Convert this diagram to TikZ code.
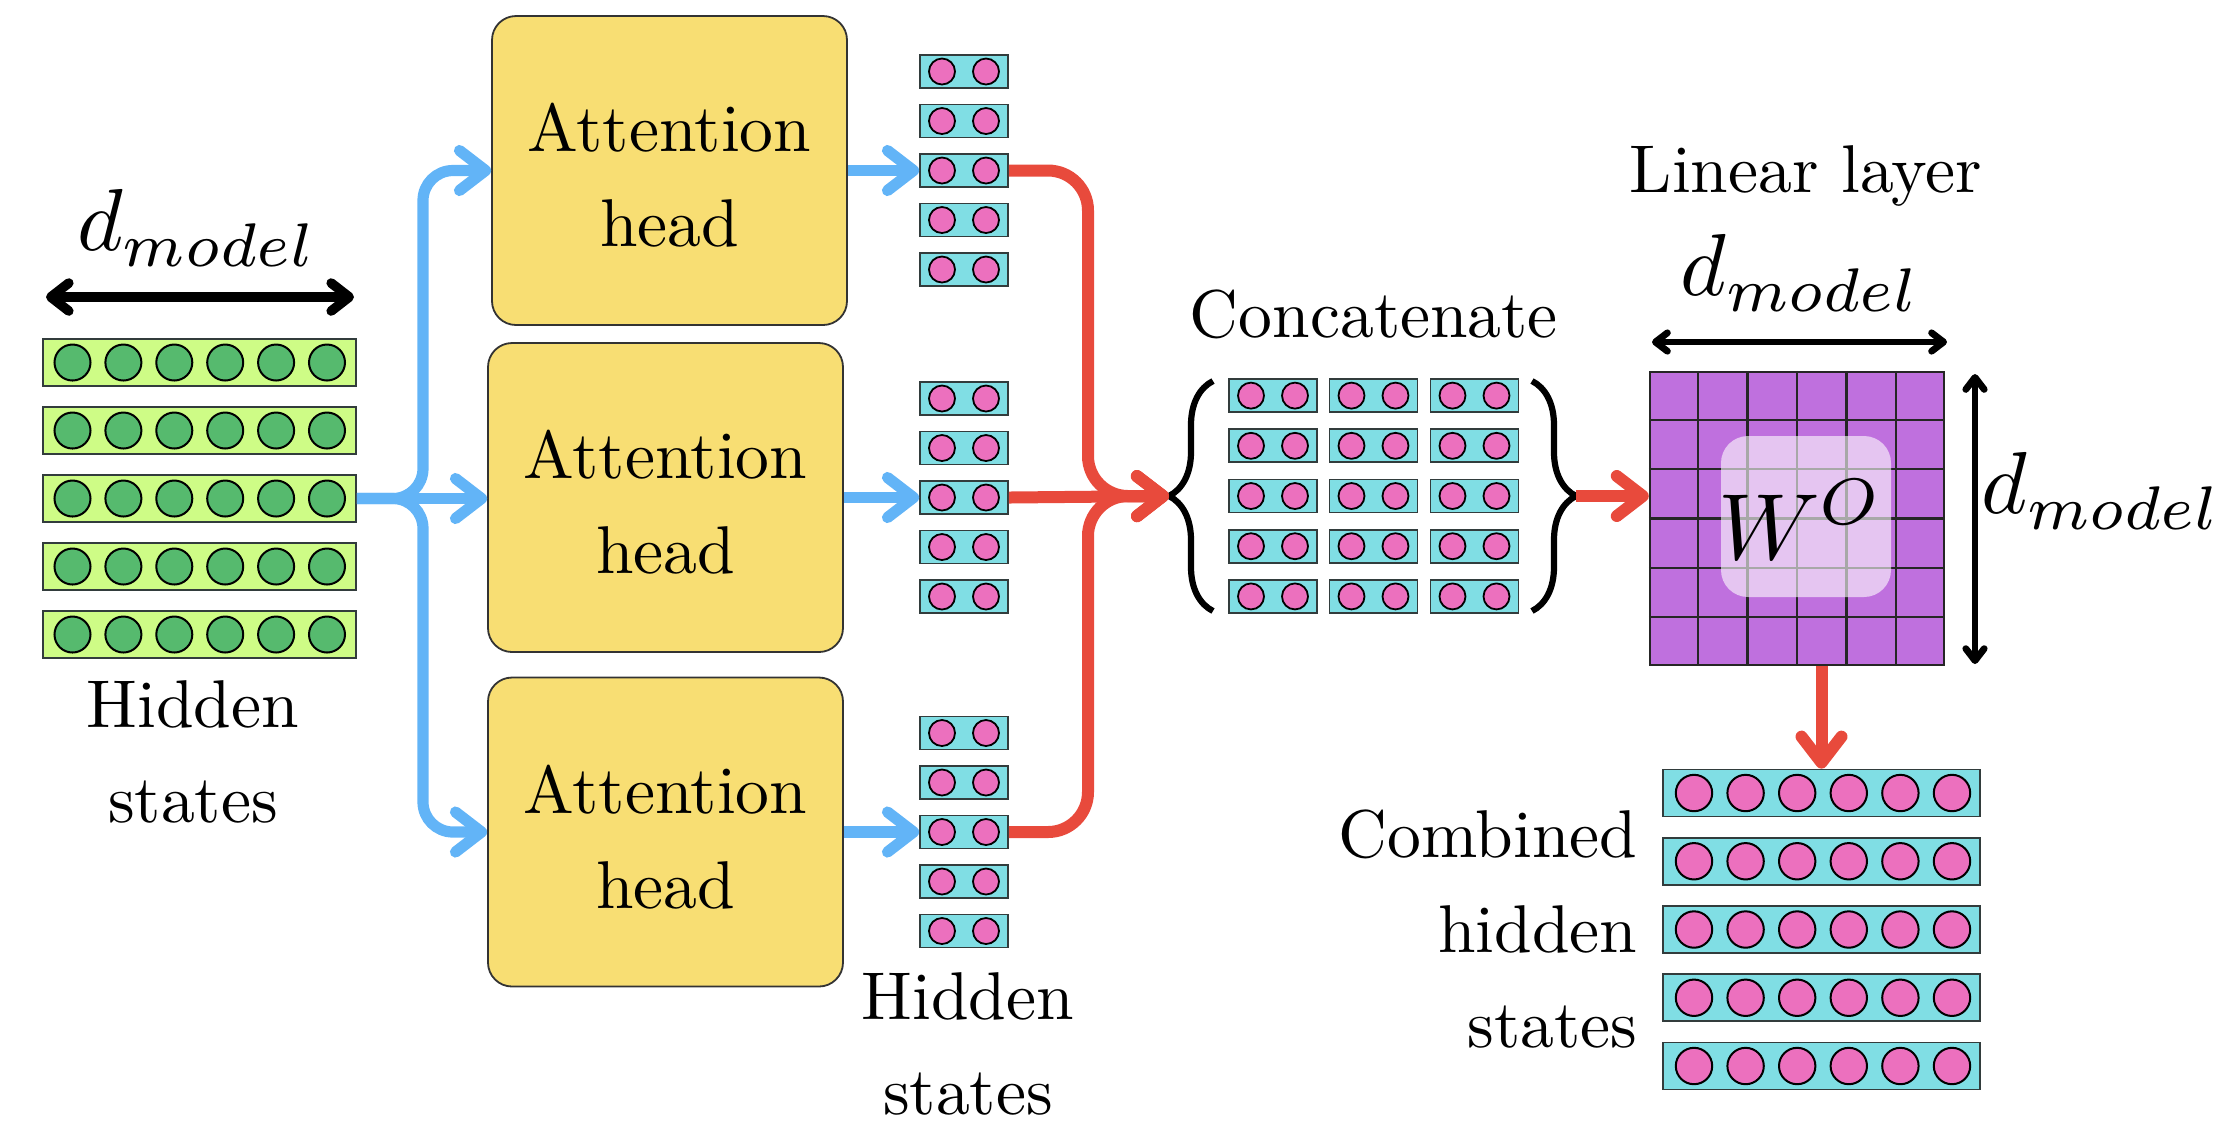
\documentclass[tikz,border=0pt]{standalone}
\usepackage{fontspec}
\newfontfamily\lmten[Ligatures=TeX]{lmroman10-regular.otf}
\usetikzlibrary{arrows.meta,decorations.pathreplacing,calc}
\definecolor{limebar}{RGB}{206,252,134}
\definecolor{greendot}{RGB}{86,186,110}
\definecolor{cyanbar}{RGB}{128,222,228}
\definecolor{pinkdot}{RGB}{236,112,190}
\definecolor{headyellow}{RGB}{248,222,115}
\definecolor{arrowblue}{RGB}{98,180,247}
\definecolor{arrowred}{RGB}{232,74,60}
\definecolor{cellpurple}{RGB}{191,112,222}
\definecolor{edgegray}{RGB}{50,60,60}
\newcommand\dmod{\scalebox{2.2}{$d$}\raisebox{-4pt}{\scalebox{2.2}{$\scriptstyle model$}}}
\newcommand\hdtext{\rule{0pt}{14.6pt}Attention\\head}
\begin{document}
\begin{tikzpicture}[x=0.25pt,y=-0.25pt,
  txt/.style={font={\fontsize{16.9}{23.75}\lmten}, inner sep=0pt, align=center},
  mathlbl/.style={inner sep=0pt, anchor=base},
  gbar/.style={draw=edgegray, line width=0.45pt, fill=limebar, minimum width=78.25pt, minimum height=11.75pt, inner sep=0pt},
  gdot/.style={circle, draw=black, line width=0.5pt, fill=greendot, minimum size=9pt, inner sep=0pt},
  cbar/.style={draw=edgegray, line width=0.45pt, fill=cyanbar, minimum width=79.25pt, minimum height=11.75pt, inner sep=0pt},
  pdot/.style={circle, draw=black, line width=0.5pt, fill=pinkdot, minimum size=9.1pt, inner sep=0pt},
  sbar/.style={draw=edgegray, line width=0.45pt, fill=cyanbar, minimum width=22pt, minimum height=8.25pt, inner sep=0pt},
  sdot/.style={circle, draw=black, line width=0.45pt, fill=pinkdot, minimum size=6.5pt, inner sep=0pt},
  head/.style={draw=black!80, line width=0.45pt, fill=headyellow, rounded corners=6pt, minimum width=88.75pt, minimum height=77.25pt, inner sep=0pt, align=center, font={\fontsize{16.9}{23.75}\lmten}},
  bluearr/.style={draw=arrowblue, line width=2.8pt, arrows={-Straight Barb[length=6.5pt,width=10pt,round]}},
  redarr/.style={draw=arrowred, line width=3pt, arrows={-Straight Barb[length=6.5pt,width=10pt,round]}},
  blkthick/.style={draw=black, line width=2.4pt, arrows={Straight Barb[length=4.5pt,width=7pt,round]-Straight Barb[length=4.5pt,width=7pt,round]}},
  blkthin/.style={draw=black, line width=1.7pt, arrows={Straight Barb[length=3pt,width=4.6pt,round]-Straight Barb[length=3pt,width=4.6pt,round]}},
  bracestyle/.style={draw=black, line width=1.55pt, decorate, decoration={brace, amplitude=11pt}},
  gridl/.style={draw=black!85, line width=0.6pt}
]
\useasboundingbox (0,0) rectangle (2232,1140);

% ---------- input hidden states ----------
\foreach \r in {1,...,5}{
  \node[gbar] (g\r) at (199.5,{362.5+68*(\r-1)}) {};
  \foreach \c in {1,...,6}
    \node[gdot] (g\r-\c) at ({72.5+50.9*(\c-1)},{362.5+68*(\r-1)}) {};
}
\node[mathlbl] (dm1) at (195,250) {\dmod};
\coordinate (dl1) at (46,297);
\coordinate (dl2) at (354,297);
\draw[blkthick] (dl1) -- (dl2);
\node[txt] (lhid) at (193,752) {Hidden\\states};

% ---------- attention heads ----------
\node[head] (h1) at (669.5,170.5) {\hdtext};
\node[head] (h2) at (665.5,497.5) {\hdtext};
\node[head] (h3) at (665.5,832) {\hdtext};

% ---------- per-head outputs ----------
\foreach \g/\yc in {1/170.5,2/497.5,3/832}{
  \foreach \k in {1,...,5}{
    \node[sbar] (s\g-\k) at (964,{\yc+49.5*(\k-3)}) {};
    \node[sdot] (s\g-\k-a) at (942,{\yc+49.5*(\k-3)}) {};
    \node[sdot] (s\g-\k-b) at (986,{\yc+49.5*(\k-3)}) {};
  }
}
\node[txt] (chid) at (968,1044) {Hidden\\states};

% ---------- blue connectors ----------
\coordinate (jx) at (423,0);
\draw[bluearr, rounded corners=7.5pt] (g3.east) -- (g3.east -| jx) -- (jx |- h1.west) -- (h1.west);
\draw[bluearr, rounded corners=7.5pt] (g3.east) -- (g3.east -| jx) -- (jx |- h3.west) -- (h3.west);
\draw[bluearr] (g3.east) -- (g3.east -| h2.west);
\foreach \i in {1,2,3}
  \draw[bluearr] (h\i.east) -- (s\i-3.west);

% ---------- concatenation ----------
\node[txt, anchor=base] (concat) at (1374,337) {Concatenate};
\foreach \col/\xc in {1/1273,2/1373.5,3/1474.5}{
  \foreach \k in {1,...,5}{
    \node[sbar] (k\col-\k) at (\xc,{496+50.2*(\k-3)}) {};
    \node[sdot] (k\col-\k-a) at ({\xc-22},{496+50.2*(\k-3)}) {};
    \node[sdot] (k\col-\k-b) at ({\xc+22},{496+50.2*(\k-3)}) {};
  }
}
\draw[bracestyle] (1213,611) -- (1213,381);
\draw[bracestyle] (1532,381) -- (1532,611);
\coordinate (lbt) at (1169,496);
\coordinate (rbt) at (1576,496);

% ---------- red connectors ----------
\coordinate (rx) at (1088,0);
\draw[redarr, rounded corners=10pt] (s1-3.east) -- (s1-3.east -| rx) -- (rx |- lbt) -- (lbt);
\draw[redarr, rounded corners=10pt] (s3-3.east) -- (s3-3.east -| rx) -- (rx |- lbt) -- (lbt);
\draw[redarr] (s2-3.east) -- (lbt);

% ---------- linear layer ----------
\node[txt, anchor=base] (lin) at (1806,192) {Linear layer};
\node[mathlbl] (dm2) at (1798,295) {\dmod};
\node[draw=black!85, line width=0.6pt, fill=cellpurple, minimum width=73.5pt, minimum height=73.25pt, inner sep=0pt] (mat) at (1797,518.5) {};
\foreach \i in {1,...,5}{
  \draw[gridl] ($(mat.north west)!{\i/6}!(mat.north east)$) -- ($(mat.south west)!{\i/6}!(mat.south east)$);
  \draw[gridl] ($(mat.north west)!{\i/6}!(mat.south west)$) -- ($(mat.north east)!{\i/6}!(mat.south east)$);
}
\node[fill=white, fill opacity=0.6, rounded corners=6.75pt, minimum width=42.5pt, minimum height=40.25pt, inner sep=0pt] (wbox) at (1806,516.5) {};
\node[mathlbl] (wlab) at (1801,559) {\scalebox{2.35}{$W^O$}};
\coordinate (dt1) at (1652,342);
\coordinate (dt2) at (1947,342);
\draw[blkthin] (dt1) -- (dt2);
\coordinate (dv1) at (1975,374);
\coordinate (dv2) at (1975,664);
\draw[blkthin] (dv1) -- (dv2);
\node[mathlbl] (dm3) at (2099,513) {\dmod};
\draw[redarr] (rbt) -- (rbt -| mat.west);

% ---------- combined output ----------
\foreach \r in {1,...,5}{
  \node[cbar] (c\r) at (1821.5,{793+68.25*(\r-1)}) {};
  \foreach \c in {1,...,6}
    \node[pdot] (c\r-\c) at ({1694+51.6*(\c-1)},{793+68.25*(\r-1)}) {};
}
\draw[redarr] (mat.south -| c1.north) -- (c1.north);
\node[txt, align=right, anchor=east] (comb) at (1638,929.5) {Combined\\hidden\\states};
\end{tikzpicture}
\end{document}
